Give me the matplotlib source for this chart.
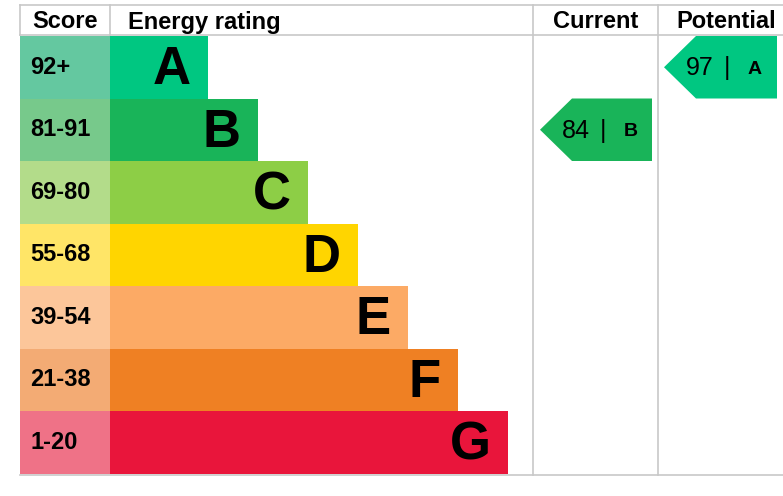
import matplotlib.pyplot as plt
from matplotlib.patches import Polygon, Rectangle

plt.rcParams['font.family'] = ['Liberation Sans', 'DejaVu Sans']

# EPC bands
bands = ['A', 'B', 'C', 'D', 'E', 'F', 'G']
score_ranges = ['92+', '81-91', '69-80', '55-68', '39-54', '21-38', '1-20']
band_colors = ['#00c781', '#19b459', '#8dce46', '#ffd500', '#fcaa65', '#ef8023', '#e9153b']
score_colors = ['#64c8a0', '#77c98b', '#b3dc8a', '#ffe567', '#fcc69a', '#f3ab74', '#ef7287']
headers = ['Score', 'Energy rating', 'Current', 'Potential']

current_score, current_band = 84, 'B'
potential_score, potential_band = 97, 'A'

fig = plt.figure(figsize=(7.83, 4.96), dpi=100)
ax = fig.add_axes([0, 0, 1, 1])
ax.set_xlim(0, 783)
ax.set_ylim(496, 0)
ax.axis('off')

# layout in pixel units
left, score_w, bar_x0 = 20, 90, 110
top, head_h = 5, 30
row_y0, row_h = 36, 62.5
col_cur, col_pot, right = 533, 658, 783
bar_step, bar_min = 50, 98

for i, (b, s) in enumerate(zip(bands, score_ranges)):
    y = row_y0 + i * row_h
    width = bar_min + i * bar_step
    ax.add_patch(Rectangle((left, y), score_w, row_h, color=score_colors[i], lw=0))
    ax.barh(y + row_h / 2, width, height=row_h, left=bar_x0, color=band_colors[i], lw=0)
    ax.text(left + 10, y + row_h / 2, s, fontsize=17, fontweight='bold', ha='left', va='center')
    ax.text(bar_x0 + width - 17, y + row_h / 2 + 3, b, fontsize=38, fontweight='bold',
            ha='right', va='center')

bottom = row_y0 + len(bands) * row_h + 1
grid = '#c8c8c8'
ax.plot([left, right], [top, top], color=grid, lw=1.2)
ax.plot([left, right], [top + head_h, top + head_h], color=grid, lw=1.2)
ax.plot([left, right], [bottom, bottom], color=grid, lw=1.2)
ax.plot([left, left], [top, top + head_h], color=grid, lw=1.2)
ax.plot([bar_x0, bar_x0], [top, top + head_h], color=grid, lw=1.2)
for x in (col_cur, col_pot):
    ax.plot([x, x], [top, bottom], color=grid, lw=1.2)

hy = top + head_h / 2 + 2
ax.text((left + bar_x0) / 2, hy, headers[0], fontsize=17, fontweight='bold', ha='center', va='center')
ax.text(bar_x0 + 18, hy, headers[1], fontsize=17, fontweight='bold', ha='left', va='center')
ax.text((col_cur + col_pot) / 2, hy, headers[2], fontsize=17, fontweight='bold', ha='center', va='center')
ax.text((col_pot + right) / 2 + 6, hy, headers[3], fontsize=17, fontweight='bold', ha='center', va='center')


def arrow(x_tip, x_right, band, score):
    i = bands.index(band)
    y0 = row_y0 + i * row_h
    y1 = y0 + row_h
    yc = (y0 + y1) / 2
    pts = [(x_tip, yc), (x_tip + 32, y0), (x_right, y0), (x_right, y1), (x_tip + 32, y1)]
    ax.add_patch(Polygon(pts, closed=True, color=band_colors[i], lw=0))
    ax.text(x_tip + 22, yc + 1, f'{score}', fontsize=18, ha='left', va='center')
    ax.text(x_tip + 63, yc + 1, '|', fontsize=18, ha='center', va='center')
    ax.text(x_tip + 91, yc + 2, band, fontsize=14, fontweight='bold', ha='center', va='center')


arrow(540, 652, current_band, current_score)
arrow(664, 777, potential_band, potential_score)

fig.savefig('out.png', dpi=100)
